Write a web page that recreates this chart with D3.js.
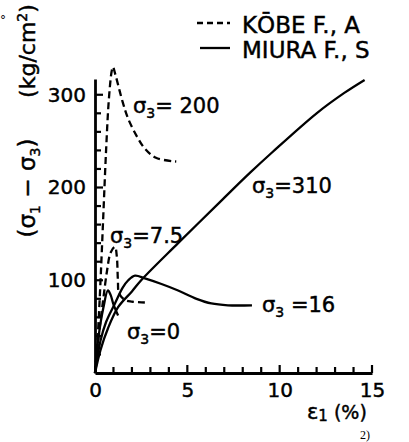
<!DOCTYPE html>
<html>
<head>
<meta charset="utf-8">
<script src="https://cdn.jsdelivr.net/npm/d3@7"></script>
<style>
  body { margin: 0; background: #fff; }
  svg { display: block; }
  text { font-family: "DejaVu Sans", sans-serif; fill: #000; stroke: #000; stroke-width: 0.45px; }
</style>
</head>
<body>
<div class="vis"></div>
<script>
// strain eps1 (%) and deviator stress (kg/cm2)
const kobe200 = [[0,0],[0.15,40],[0.3,100],[0.45,170],[0.6,240],[0.75,295],[0.9,325],[0.97,330],[1.1,322],[1.5,292],[1.8,274],[2.3,254],[2.7,242],[3.3,232],[4.4,228]];
const kobe75 = [[0,0],[0.2,40],[0.45,80],[0.65,110],[0.85,130],[1.08,136],[1.18,126],[1.24,100],[1.3,86],[1.6,79],[2.0,77],[2.7,76]];
const miura0 = [[0,0],[0.2,40],[0.45,70],[0.7,89],[0.85,84],[1.0,74],[1.25,62]];
const miura16 = [[0,0],[0.3,35],[0.6,55],[1.08,75],[1.5,92],[1.8,100],[2.17,105],[2.7,102],[3.6,96],[4.5,89],[5.5,80],[6.3,75],[7.2,73],[8.5,73]];
const miura310 = [[0,0],[0.3,25],[0.7,48],[1.25,71],[2,88],[2.5,100],[4.5,140],[6.9,187],[8.4,216],[9.6,238],[12,280],[13.5,302],[14.6,316]];

const xMajor = [0, 5, 10, 15];
const yMajor = [100, 200, 300];
const xMinor = d3.range(1, 16);
const yMinor = d3.range(20, 317, 20);

const W = 409, H = 442;
const svg = d3.select('.vis').append('svg')
    .attr('width', W)
    .attr('height', H);

const x = d3.scaleLinear().domain([0, 15]).range([95, 372]);
const y = d3.scaleLinear().domain([0, 317]).range([373, 79]);

const line = d3.line()
    .x(d => x(d[0]))
    .y(d => y(d[1]))
    .curve(d3.curveCatmullRom.alpha(0.5));

// axes: labels from d3 axes, inward ticks drawn from the scales
const gx = svg.append('g').attr('transform', 'translate(0,' + y(0) + ')')
    .call(d3.axisBottom(x).tickValues(xMajor).tickSize(0).tickPadding(10));
const gy = svg.append('g').attr('transform', 'translate(' + x(0) + ',0)')
    .call(d3.axisLeft(y).tickValues(yMajor).tickSize(0).tickPadding(9));

svg.selectAll('.domain').attr('stroke', '#000').attr('stroke-width', 2.8);
svg.selectAll('.tick text').style('font-size', '20px').attr('fill', '#000');
gx.selectAll('.tick text').attr('dy', '0.7em');

svg.selectAll('line.xtick')
    .data(xMinor)
    .enter().append('line')
    .attr('class', 'xtick')
    .attr('x1', d => x(d)).attr('x2', d => x(d))
    .attr('y1', y(0)).attr('y2', d => y(0) - (d % 5 === 0 ? 8 : 6))
    .attr('stroke', '#000').attr('stroke-width', 2.2);

svg.selectAll('line.ytick')
    .data(yMinor)
    .enter().append('line')
    .attr('class', 'ytick')
    .attr('y1', d => y(d)).attr('y2', d => y(d))
    .attr('x1', x(0)).attr('x2', d => x(0) + (d % 100 === 0 ? 8 : 6))
    .attr('stroke', '#000').attr('stroke-width', 2.2);

// curves
const curves = [
    { data: kobe200, dash: '7,4' },
    { data: kobe75, dash: '7,4' },
    { data: miura0, dash: null },
    { data: miura16, dash: null },
    { data: miura310, dash: null }
];
svg.selectAll('path.curve')
    .data(curves)
    .enter().append('path')
    .attr('class', 'curve')
    .attr('d', d => line(d.data))
    .attr('fill', 'none')
    .attr('stroke', '#000')
    .attr('stroke-width', 2.3)
    .attr('stroke-dasharray', d => d.dash);

// sigma labels
function sigma(px, py, rest) {
    const t = svg.append('text').attr('x', px).attr('y', py).style('font-size', '21px');
    t.append('tspan').text('σ');
    t.append('tspan').attr('dy', 5).style('font-size', '14px').text('3');
    t.append('tspan').attr('dy', -5).text(rest);
}
sigma(133, 113, '= 200');
sigma(252, 193, '=310');
sigma(110, 243, '=7.5');
sigma(262, 312, ' =16');
sigma(127, 339, '=0');

// legend
svg.append('line').attr('x1', 197).attr('x2', 230).attr('y1', 23).attr('y2', 23)
    .attr('stroke', '#000').attr('stroke-width', 2.3).attr('stroke-dasharray', '6,4');
svg.append('line').attr('x1', 200).attr('x2', 230).attr('y1', 48).attr('y2', 48)
    .attr('stroke', '#000').attr('stroke-width', 2.3);
svg.append('text').attr('x', 242).attr('y', 33).style('font-size', '23px').text('KŌBE F., A');
svg.append('text').attr('x', 242).attr('y', 58).style('font-size', '23px').text('MIURA F., S');

// y title
const yt1 = svg.append('text')
    .attr('transform', 'translate(35,188) rotate(-90)')
    .attr('text-anchor', 'middle')
    .style('font-size', '23px');
yt1.append('tspan').text('(σ');
yt1.append('tspan').attr('dy', 5).style('font-size', '14px').text('1');
yt1.append('tspan').attr('dy', -5).text(' − σ');
yt1.append('tspan').attr('dy', 5).style('font-size', '14px').text('3');
yt1.append('tspan').attr('dy', -5).text(')');

const yt2 = svg.append('text')
    .attr('transform', 'translate(35,51) rotate(-90)')
    .attr('text-anchor', 'middle')
    .style('font-size', '22px');
yt2.append('tspan').text('(kg/cm');
yt2.append('tspan').attr('dy', -8).style('font-size', '14px').text('2');
yt2.append('tspan').attr('dy', 8).text(')');

// x title
const xt = svg.append('text').attr('x', 307).attr('y', 419).style('font-size', '21px');
xt.append('tspan').text('ε');
xt.append('tspan').attr('dy', 2).style('font-size', '15px').text('1');
xt.append('tspan').attr('dy', -2).style('font-size', '19px').text(' (%)');

svg.append('text').attr('x', 360).attr('y', 439).style('stroke-width', 0)
    .style('font-family', '"Liberation Serif", serif').style('font-size', '12px').text('2)');
svg.append('text').attr('x', 0).attr('y', 24).style('stroke-width', 0).style('font-size', '12px').text('°');
</script>
</body>
</html>
